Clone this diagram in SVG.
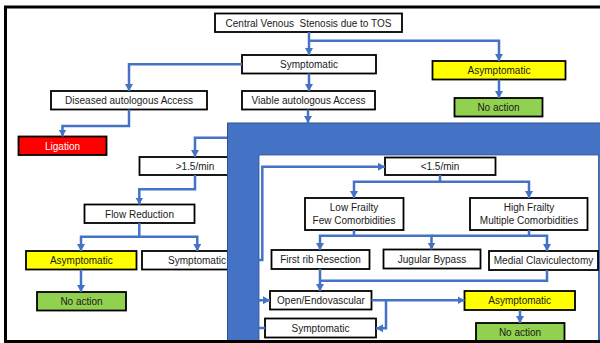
<svg xmlns="http://www.w3.org/2000/svg" width="600" height="343" viewBox="0 0 600 343">
  <style>
    .box { stroke: #000; stroke-width: 1.8; }
    .w { fill: #fff; }
    .y { fill: #ffff00; }
    .g { fill: #92d050; }
    .r { fill: #ff0000; }
    text { font-family: "Liberation Sans", Arial, sans-serif; font-size: 10px; fill: #1a1a1a; text-anchor: middle; white-space: pre; }
    text.light { fill: #fff; }
    .wire { fill: none; stroke: #4472c4; stroke-width: 2.5; }
    .arr { marker-end: url(#head); }
  </style>
  <defs>
    <marker id="head" markerUnits="userSpaceOnUse" markerWidth="9" markerHeight="9" refX="7" refY="4" orient="auto">
      <path d="M0,0 L7,4 L0,8 z" fill="#4472c4"/>
    </marker>
  </defs>

  <rect x="0" y="0" width="600" height="343" fill="#fff"/>

  <!-- left-hand branch -->
  <g id="central">
    <rect class="box w" x="215" y="13.5" width="187" height="18.5"/>
    <text x="308.5" y="26.5">Central Venous  Stenosis due to TOS</text>
  </g>
  <g id="symptomatic-top">
    <rect class="box w" x="242" y="55" width="134" height="18.5"/>
    <text x="309" y="68">Symptomatic</text>
  </g>
  <g id="asymptomatic-top">
    <rect class="box y" x="432.5" y="61" width="133" height="18.5"/>
    <text x="499" y="74">Asymptomatic</text>
  </g>
  <g id="no-action-top">
    <rect class="box g" x="454.5" y="98" width="88" height="18.5"/>
    <text x="498.5" y="111">No action</text>
  </g>
  <g id="diseased">
    <rect class="box w" x="51" y="91" width="156" height="18.5"/>
    <text x="129" y="104">Diseased autologous Access</text>
  </g>
  <g id="viable">
    <rect class="box w" x="242" y="91" width="133" height="18.5"/>
    <text x="308.5" y="104">Viable autologous Access</text>
  </g>
  <g id="ligation">
    <rect class="box r" x="18.5" y="136.5" width="88" height="18.5"/>
    <text class="light" x="62.5" y="149.5">Ligation</text>
  </g>
  <g id="flow-high">
    <rect class="box w" x="139.5" y="157" width="112" height="18"/>
    <text x="195" y="169.5">&gt;1.5/min</text>
  </g>
  <g id="flow-reduction">
    <rect class="box w" x="84.5" y="204.5" width="110" height="18.5"/>
    <text x="139.5" y="217.5">Flow Reduction</text>
  </g>
  <g id="asymptomatic-left">
    <rect class="box y" x="26" y="251" width="110.5" height="18.5"/>
    <text x="81.3" y="264">Asymptomatic</text>
  </g>
  <g id="symptomatic-left">
    <rect class="box w" x="142" y="251" width="111" height="18.5"/>
    <text x="197" y="264">Symptomatic</text>
  </g>
  <g id="no-action-left">
    <rect class="box g" x="37" y="292" width="89" height="18.5"/>
    <text x="81.5" y="305">No action</text>
  </g>

  <!-- blue panel framing the low-flow pathway -->
  <g id="panel">
    <rect x="227.5" y="123" width="380" height="230" fill="#4472c4" stroke="#2f528f" stroke-width="1"/>
    <rect x="259" y="155" width="339.5" height="200" fill="#fff" stroke="#2f528f" stroke-width="0.8"/>
  </g>

  <!-- low-flow pathway -->
  <g id="flow-low">
    <rect class="box w" x="385" y="157.5" width="110.5" height="17.5"/>
    <text x="440" y="170">&lt;1.5/min</text>
  </g>
  <g id="low-frailty">
    <rect class="box w" x="305" y="198" width="98.5" height="32"/>
    <text x="354" y="211">Low Frailty</text>
    <text x="354" y="223.5">Few Comorbidities</text>
  </g>
  <g id="high-frailty">
    <rect class="box w" x="470" y="198" width="117.5" height="32"/>
    <text x="529" y="211">High Frailty</text>
    <text x="529" y="223.5">Multiple Comorbidities</text>
  </g>
  <g id="first-rib">
    <rect class="box w" x="271.5" y="250" width="98" height="19"/>
    <text x="320.5" y="263">First rib Resection</text>
  </g>
  <g id="jugular">
    <rect class="box w" x="383.5" y="249.5" width="97" height="19"/>
    <text x="432" y="262.5">Jugular Bypass</text>
  </g>
  <g id="claviculectomy">
    <rect class="box w" x="489" y="251" width="109" height="19"/>
    <text x="543.5" y="264">Medial Claviculectomy</text>
  </g>
  <g id="open-endo">
    <rect class="box w" x="270" y="291" width="101.5" height="18.5"/>
    <text x="321" y="304">Open/Endovascular</text>
  </g>
  <g id="asymptomatic-right">
    <rect class="box y" x="464.5" y="291" width="110.5" height="19"/>
    <text x="519.7" y="304">Asymptomatic</text>
  </g>
  <g id="symptomatic-right">
    <rect class="box w" x="265" y="318.5" width="111" height="19"/>
    <text x="320.5" y="331.5">Symptomatic</text>
  </g>
  <g id="no-action-right">
    <rect class="box g" x="476" y="323" width="88.5" height="20"/>
    <text x="520" y="336">No action</text>
  </g>

  <!-- connectors -->
  <g id="connectors">
    <path class="wire arr" d="M309,32 V55"/>
    <path class="wire arr" d="M309,40.7 H499 V61"/>
    <path class="wire arr" d="M242,64.3 H129 V91"/>
    <path class="wire arr" d="M309,73.5 V91"/>
    <path class="wire arr" d="M499,79.5 V98"/>
    <path class="wire arr" d="M129,109.5 V126 H62.5 V136.5"/>
    <path class="wire arr" d="M308,109.5 V123"/>
    <path class="wire arr" d="M227,137.7 H195 V157"/>
    <path class="wire arr" d="M195,175 V189.3 H139.3 V204.5"/>
    <path class="wire arr" d="M139.3,223 V236.7 H81 V251"/>
    <path class="wire arr" d="M139.3,236.7 H197.3 V251"/>
    <path class="wire arr" d="M81,269.5 V292"/>
    <path class="wire arr" d="M259,260 H262.3 V166.7 H385"/>
    <path class="wire arr" d="M440,175 V181.7 H354 V198"/>
    <path class="wire arr" d="M440,181.7 H529 V198"/>
    <path class="wire arr" d="M354,230 V235.7 H320 V250"/>
    <path class="wire arr" d="M354,235.7 H431.5 V249.5"/>
    <path class="wire arr" d="M529,230 V235.7 H547 V251"/>
    <path class="wire" d="M431.5,235.7 H529"/>
    <path class="wire arr" d="M320,269 V291"/>
    <path class="wire" d="M547,270 V280.7 H320"/>
    <path class="wire arr" d="M259,300.3 H270"/>
    <path class="wire arr" d="M371.5,300.3 H464.5"/>
    <path class="wire arr" d="M386,300.3 V328.3 H376"/>
    <path class="wire arr" d="M520,310 V323"/>
    <path class="wire" d="M259,328 H265"/>
  </g>

  <!-- outer frame -->
  <rect x="5.5" y="7" width="600" height="334.5" fill="none" stroke="#000" stroke-width="3"/>
</svg>
